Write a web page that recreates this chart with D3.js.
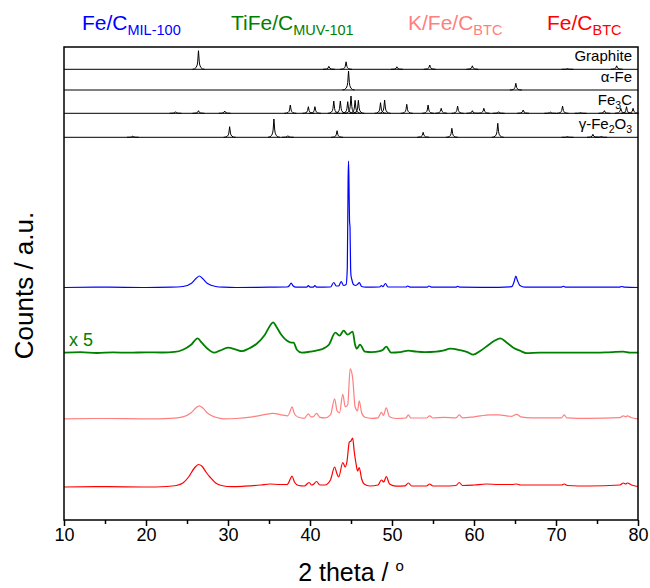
<!DOCTYPE html>
<html>
<head>
<meta charset="utf-8">
<script src="https://cdn.jsdelivr.net/npm/d3@7"></script>
<style>
  body { margin: 0; background: #fff; }
  svg { display: block; font-family: "Liberation Sans", Arial, sans-serif; }
</style>
</head>
<body>
<div id="chart"></div>
<script>
// ---- data (2 theta in degrees, intensity in a.u.) ----
const xTicks = [10, 20, 30, 40, 50, 60, 70, 80];
const xMinorTicks = [15, 25, 35, 45, 55, 65, 75];

const sampleMain = ["Fe/C", "TiFe/C", "K/Fe/C", "Fe/C"];
const sampleSub = ["MIL-100", "MUV-101", "BTC", "BTC"];
const sampleColors = ["#0000ff", "#008000", "#ff7f7f", "#ff0000"];
const sampleOffsets = [232.5, 167.3, 101.2, 33];
const sampleFactors = [1, 5, 1, 1];

const feCMil = [[10,0],[15,0.3],[20,0],[23,0.3],[24.5,1],[25.5,4],[26.1,9],[26.5,11.5],[26.9,9],[27.5,4],[28.5,1],[29.5,0.3],[31,0],[35,0.3],
  [37.2,0.5],[37.5,2],[37.7,4.5],[37.9,2],[38.3,0.3],[39.6,0.3],[39.8,2],[40.0,0.3],[40.4,0.3],[40.6,2],[40.8,0.3],[42.5,0.5],[42.9,5],
  [43.2,1.5],[43.5,1.5],[43.8,6],[44.1,2],[44.4,3],[44.55,20],[44.65,110],[44.7,126.5],[44.76,100],[44.82,67],[44.88,60],[44.95,20],
  [45.0,12],[45.1,8],[45.3,3],[45.6,2],[45.85,3.5],[46.0,5],[46.3,1],[46.8,0.3],[48.5,0.5],[48.7,2],[48.9,0.8],[49.2,4],[49.5,0.5],
  [51.7,0.5],[51.9,1.5],[52.2,0.3],[54.3,0.3],[54.5,1.5],[54.8,0.3],[57.8,0.3],[58.0,1.2],[58.3,0.3],[63,0.2],[64.6,0.8],[64.9,6],
  [65.1,11.5],[65.3,7],[65.6,2],[66.2,0.3],[70.6,0.3],[70.9,1.2],[71.2,0.3],[77.7,0.3],[78.0,1],[78.4,0.3],[80,0]];

// raw counts, plotted x 5
const tiFeC = [[10,0],[12,0.1],[14,-0.06],[16,0.06],[18,0],[20,0.08],[22,0.04],[23.5,0.16],[24.5,0.6],[25.5,1.6],[26.3,2.88],[26.8,2],
  [27.5,0.8],[28.3,0],[29.0,0.4],[30.0,1],[31.0,0.6],[31.7,0.3],[32.5,0.8],[33.5,1.8],[34.5,3.6],[35.2,5.6],[35.5,6.08],[35.9,5.2],
  [36.5,3.6],[37.2,2.4],[37.7,2],[38.0,2],[38.4,0.6],[39.0,0],[40.0,0.2],[41.0,0.5],[41.6,0.8],[42.3,1.6],[43.1,4],[43.6,3.4],[44.1,4.4],
  [44.6,3.6],[45.2,4.2],[45.5,1.6],[45.7,0.8],[46.1,1.6],[46.7,0.2],[47.5,0.1],[48.5,0.3],[48.9,0.6],[49.3,1.2],[49.9,0],[51,0.1],
  [52,0.4],[53,0.2],[54,0.1],[55.4,0.2],[56.2,0.4],[57.1,0.8],[58.3,0.5],[59.2,0.1],[59.9,-0.4],[60.8,0.4],[61.8,1.6],[62.5,2.4],
  [63.2,2.88],[64.0,2],[64.8,1],[65.6,0.4],[66.4,-0.1],[68,0],[70,0],[72,0],[74,0],[76,0.06],[78.2,0.2],[79,0],[80,0]];

const kFeCBtc = [[10,0],[15,0.3],[20,0],[23,0.5],[24.5,2],[25.5,6],[26.1,11],[26.5,13],[26.9,11],[27.6,5],[28.5,1.5],[29.5,0],[31,0.3],
  [33,2],[35,5],[35.5,5.5],[36.5,4],[37.3,3],[37.6,8],[37.8,12],[38.1,5],[38.6,1.5],[39.3,0.5],[39.8,5],[40.1,2],[40.4,2],[40.8,5.5],
  [41.2,1.5],[41.8,1],[42.5,4],[43.0,20],[43.3,8],[43.6,6],[44.0,24.5],[44.3,12],[44.6,14],[44.9,50],[45.2,41],[45.5,12],[45.8,8],
  [46.0,18],[46.3,6],[46.7,1.5],[47.5,0.5],[48.3,1],[48.7,6.5],[48.95,3.5],[49.3,11],[49.7,2],[50.5,0.3],[51.7,0.8],[52.0,4],[52.3,0.8],
  [54.2,0.8],[54.6,3],[55,0.8],[56.3,1.5],[57.8,1],[58.2,4],[58.6,1],[60,2],[62,4],[63,4],[64.6,2.5],[65.2,4.5],[65.7,2],[67,1],
  [70.7,1],[71.0,4],[71.3,1],[74,0.5],[77.8,1.2],[78.2,3],[78.5,2],[78.7,3],[79.2,1],[80,0]];

const feCBtc = [[10,0],[15,0.3],[20,0],[22.5,0.5],[23.7,1.5],[24.5,4],[25.2,10],[25.9,19],[26.4,22.5],[26.8,21],[27.4,14],[27.8,10],
  [28.5,4],[29.2,1.5],[30.5,0.3],[32,0.8],[34,2],[35.1,3],[36.3,2.5],[37.2,2.5],[37.6,8],[37.8,11],[38.1,5],[38.6,1.5],[39.3,1],
  [39.9,4.5],[40.2,2],[40.4,2.5],[40.8,5.5],[41.2,2],[41.8,2],[42.5,7],[43.0,20],[43.3,13],[43.5,10],[44.0,24.5],[44.3,20],[44.5,25],
  [44.8,45],[45.0,46],[45.2,49],[45.4,35],[45.6,24],[45.8,16],[46.0,19.5],[46.3,8],[46.6,3],[47.3,1],[48.3,2],[48.7,7],[49.0,5],
  [49.3,10.5],[49.7,3],[50.5,0.8],[51.6,1.2],[52.0,4],[52.4,1],[54.2,1],[54.6,3],[55,1],[56.3,1],[57.8,1.5],[58.2,4.5],[58.6,1.5],
  [60,2],[61.5,3],[63,2.5],[64.6,2.5],[65.2,3],[65.7,2],[68,2],[70.7,2],[71.0,3],[71.4,1.5],[74,1],[77.8,2],[78.2,4],[78.5,3],
  [78.7,4],[79.2,2],[80,0.5]];

const sampleData = [feCMil, tiFeC, kFeCBtc, feCBtc];

// reference patterns: [2 theta, relative height]
const refOffsets = [450.7, 430, 406.7, 382.7];
const graphitePeaks = [[26.4,18.6],[42.3,3],[44.4,7.5],[50.6,2.5],[54.6,4.3],[59.8,3.5],[71.4,0.8],[77.4,3.5]];
const alphaFePeaks = [[44.7,19],[65.1,6.7]];
const fe3cPeaks = [[23.6,1.6],[26.4,2.6],[29.6,2.3],[37.6,8.3],[39.8,6.6],[40.6,6.6],[42.9,12.3],[43.7,12.3],[44.6,11.6],[45.0,17.3],
  [45.5,13],[45.9,13],[48.6,10.6],[49.1,13.3],[51.8,9],[54.4,8.3],[56.0,5],[58.0,7.3],[59.8,2.6],[61.2,5],[63.0,1.6],[66.0,3.3],
  [69.3,1.3],[70.8,7.3],[73.0,0.8],[75.9,2.6],[77.9,5],[78.6,6.6],[79.4,5]];
const gammaFe2o3Peaks = [[18.4,1.3],[30.2,10.6],[35.6,18.3],[37.3,1.6],[43.3,6.6],[53.8,5],[57.3,9],[62.9,14],[71.4,0.8],[74.5,3],[75.5,1]];
const refPeaks = [graphitePeaks, alphaFePeaks, fe3cPeaks, gammaFe2o3Peaks];
// label pieces: [text, isSubscript]
const refLabels = [
  [["Graphite", false]],
  [["\u03b1-Fe", false]],
  [["Fe", false], ["3", true], ["C", false]],
  [["\u03b3-Fe", false], ["2", true], ["O", false], ["3", true]]
];

// ---- layout ----
const width = 650, height = 588;
const marginLeft = 64, marginRight = 12, marginTop = 47, marginBottom = 68;

const x = d3.scaleLinear().domain([10, 80]).range([marginLeft, width - marginRight]);
const y = d3.scaleLinear().domain([0, 473]).range([height - marginBottom, marginTop]);

const svg = d3.select("#chart")
  .append("svg")
  .attr("width", width)
  .attr("height", height)
  .attr("viewBox", `0 0 ${width} ${height}`);

// reference patterns: baseline plus a narrow peak glyph for each reflection
refPeaks.forEach((peaks, i) => {
  const off = refOffsets[i];
  const g = svg.append("g").attr("fill", "none").attr("stroke", "#000").attr("stroke-width", 1);
  g.append("line")
    .attr("x1", x(10)).attr("x2", x(80))
    .attr("y1", y(off)).attr("y2", y(off));
  g.selectAll("path")
    .data(peaks)
    .join("path")
    .attr("d", d => {
      const px = x(d[0]), b = y(off), t = y(off + d[1]);
      const h = b - t;
      return `M${px - 6},${b} Q${px - 1.3},${b} ${px - 0.8},${b - h * 0.4} L${px},${t} L${px + 0.8},${b - h * 0.4} Q${px + 1.3},${b} ${px + 6},${b}`;
    });

  const label = svg.append("text")
    .attr("x", x(80) - 6)
    .attr("y", y(off) - 8)
    .attr("text-anchor", "end")
    .style("font-size", "15px")
    .attr("fill", "#000");
  let sub = false;
  refLabels[i].forEach(([txt, isSub]) => {
    const dy = isSub === sub ? 0 : (isSub ? 4 : -4);
    label.append("tspan")
      .attr("dy", dy)
      .style("font-size", isSub ? "10.5px" : "15px")
      .text(txt);
    sub = isSub;
  });
});

// measured patterns
sampleData.forEach((data, i) => {
  const off = sampleOffsets[i], k = sampleFactors[i];
  const line = d3.line()
    .x(d => x(d[0]))
    .y(d => y(off + k * d[1]))
    .curve(d3.curveMonotoneX);
  svg.append("path")
    .datum(data)
    .attr("fill", "none")
    .attr("stroke", sampleColors[i])
    .attr("stroke-width", i === 1 ? 1.8 : 1.2)
    .attr("stroke-linejoin", "round")
    .attr("d", line);
});

// scale factor note for the TiFe/C pattern
svg.append("text")
  .attr("x", x(10) + 5)
  .attr("y", y(sampleOffsets[1]) - 7)
  .style("font-size", "18px")
  .attr("fill", sampleColors[1])
  .text("x 5");

// sample titles above the frame
const titleX = [82, 231, 408, 547];
sampleMain.forEach((name, i) => {
  const t = svg.append("text")
    .attr("x", titleX[i])
    .attr("y", 30)
    .attr("fill", sampleColors[i])
    .style("font-size", "21px");
  t.append("tspan").text(name);
  t.append("tspan").attr("dy", 5).style("font-size", "14.5px").text(sampleSub[i]);
});

// frame
svg.append("rect")
  .attr("x", marginLeft)
  .attr("y", marginTop)
  .attr("width", width - marginLeft - marginRight)
  .attr("height", height - marginTop - marginBottom)
  .attr("fill", "none")
  .attr("stroke", "#000")
  .attr("stroke-width", 1.5);

// bottom axis
const xAxis = svg.append("g")
  .attr("transform", `translate(0,${height - marginBottom})`)
  .call(d3.axisBottom(x).tickValues(xTicks).tickSize(6).tickPadding(2).tickFormat(d3.format("d")));
xAxis.select(".domain").remove();
xAxis.selectAll(".tick line").attr("stroke-width", 1.5);
xAxis.selectAll(".tick text")
  .style("font-size", "18px")
  .style("font-family", "Liberation Sans, Arial, sans-serif")
  .attr("fill", "#000");

const xMinor = svg.append("g")
  .attr("transform", `translate(0,${height - marginBottom})`)
  .call(d3.axisBottom(x).tickValues(xMinorTicks).tickSize(4).tickFormat(""));
xMinor.select(".domain").remove();
xMinor.selectAll(".tick line").attr("stroke-width", 1.5);

// axis titles
const xTitle = svg.append("text")
  .attr("x", (x(10) + x(80)) / 2)
  .attr("y", 581)
  .attr("text-anchor", "middle")
  .style("font-size", "25px")
  .attr("fill", "#000");
xTitle.append("tspan").text("2 theta / ");
xTitle.append("tspan").attr("dy", -10).style("font-size", "15px").text("o");

svg.append("text")
  .attr("transform", `translate(33,${(y(0) + y(473)) / 2 + 2}) rotate(-90)`)
  .attr("text-anchor", "middle")
  .style("font-size", "26px")
  .attr("fill", "#000")
  .text("Counts / a.u.");
</script>
</body>
</html>
